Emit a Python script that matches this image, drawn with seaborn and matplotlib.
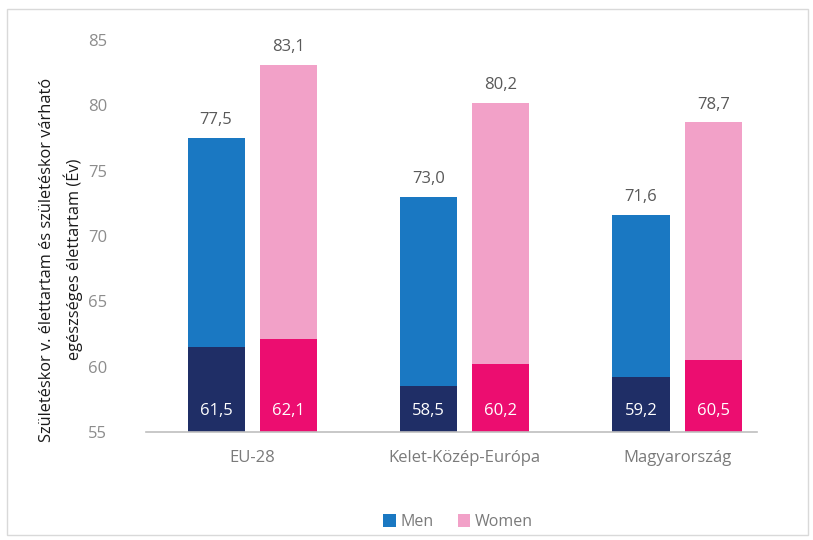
import matplotlib
matplotlib.use("Agg")
import matplotlib.pyplot as plt
import seaborn as sns
import pandas as pd
from matplotlib.patches import Rectangle, Patch

regions = ["EU-28", "Kelet-Közép-Európa", "Magyarország"]
sexes = ["Men", "Women"]
life_men = [77.5, 73.0, 71.6]
life_women = [83.1, 80.2, 78.7]
healthy_men = [61.5, 58.5, 59.2]
healthy_women = [62.1, 60.2, 60.5]

df = pd.DataFrame({
    "region": regions * 2,
    "sex": ["Men"] * 3 + ["Women"] * 3,
    "life": life_men + life_women,
    "healthy": healthy_men + healthy_women,
})

sns.set_theme(style="white")
plt.rcParams["font.family"] = ["Open Sans", "DejaVu Sans"]

fig = plt.figure(figsize=(8.13, 5.40), dpi=100)
ax = fig.add_axes([146 / 813, 108 / 540, (757 - 146) / 813, 392 / 540])

light = {"Men": "#1a78c2", "Women": "#f2a1c8"}
dark = {"Men": "#1f2e66", "Women": "#ec0d70"}

sns.barplot(data=df, x="region", y="life", hue="sex", hue_order=sexes,
            order=regions, palette=light, width=0.68, gap=0.21,
            saturation=1, ax=ax, legend=False, errorbar=None, linewidth=0)
sns.barplot(data=df, x="region", y="healthy", hue="sex", hue_order=sexes,
            order=regions, palette=dark, width=0.68, gap=0.21,
            saturation=1, ax=ax, legend=False, errorbar=None, linewidth=0)

ax.set_ylim(55, 85)
ax.set_xlim(-0.5, 2.376)
ax.set_yticks(range(55, 86, 5))
ax.tick_params(axis="y", length=0, labelsize=12, labelcolor="#8c8c8c", pad=28)
ax.tick_params(axis="x", length=0, labelsize=12, labelcolor="#7a7a7a", pad=13)
ax.set_xlabel("")
ax.set_ylabel("Születéskor v. élettartam és születéskor várható\negészséges élettartam (Év)",
              fontsize=11.8, color="#1a1a1a", linespacing=1.55)
ax.yaxis.set_label_coords(-0.103, 0.44)
for s in ["left", "right", "top"]:
    ax.spines[s].set_visible(False)
ax.spines["bottom"].set_color("#bfbfbf")
ax.spines["bottom"].set_linewidth(1.2)

n = len(regions)
patches = ax.patches
for p in patches[:2 * n]:
    h = p.get_height()
    ax.annotate(f"{h:.1f}".replace(".", ","),
                (p.get_x() + p.get_width() / 2, h), xytext=(0, 7),
                textcoords="offset points", ha="center", va="bottom",
                fontsize=12, color="#595959")
for p in patches[2 * n:4 * n]:
    h = p.get_height()
    ax.annotate(f"{h:.1f}".replace(".", ","),
                (p.get_x() + p.get_width() / 2, 55), xytext=(0, 15),
                textcoords="offset points", ha="center", va="center",
                fontsize=12, color="white")

handles = [Patch(facecolor=light[s], edgecolor="none") for s in sexes]
fig.legend(handles, sexes, loc="center", bbox_to_anchor=(458 / 813, 1 - 522 / 540),
           ncol=2, frameon=False, fontsize=11.5, labelcolor="#7a7a7a",
           handlelength=0.8, handleheight=0.8, handletextpad=0.3, columnspacing=1.5)

fig.patches.append(Rectangle((7 / 813, 5 / 540), 801 / 813, 526 / 540,
                             transform=fig.transFigure, fill=False,
                             edgecolor="#d9d9d9", linewidth=1))

fig.savefig("out.png", dpi=100)
